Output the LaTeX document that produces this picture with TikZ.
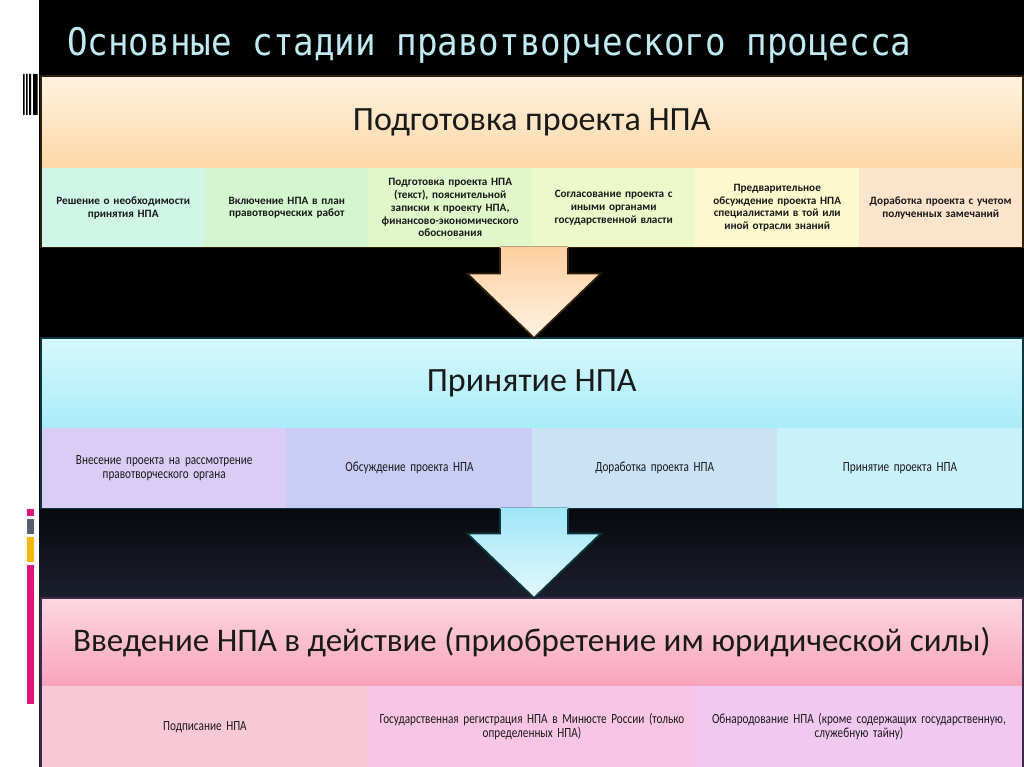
\documentclass[tikz,border=0pt]{standalone}
\usepackage{fontspec}
\setmainfont{Carlito}
\newfontfamily\titlefont{DejaVu Sans Mono}[FakeStretch=0.9]
\newfontfamily\condfont{Carlito}[FakeStretch=0.8]
\newcommand\tightspaces{\spaceskip=2.3pt plus 1pt minus 0.5pt\relax}
\usetikzlibrary{calc}
\definecolor{titlecol}{HTML}{BFEAF2}
\definecolor{txt}{HTML}{1A1A1A}
\definecolor{navy}{HTML}{1E2232}
\definecolor{hAt}{HTML}{FFF2E0}\definecolor{hAb}{HTML}{FDD8A6}
\definecolor{hBt}{HTML}{D6F8FD}\definecolor{hBb}{HTML}{A9ECF9}
\definecolor{hCt}{HTML}{FDD8E0}\definecolor{hCb}{HTML}{F9A3BB}
\definecolor{cA1}{HTML}{CFF6E6}\definecolor{cA2}{HTML}{D4F6CF}\definecolor{cA3}{HTML}{DFF7C9}
\definecolor{cA4}{HTML}{EDF8CB}\definecolor{cA5}{HTML}{FDF8CD}\definecolor{cA6}{HTML}{FDE4CD}
\definecolor{cB1}{HTML}{D9CDF6}\definecolor{cB2}{HTML}{C9CDF6}\definecolor{cB3}{HTML}{C9E2F6}\definecolor{cB4}{HTML}{C9F1F9}
\definecolor{cC1}{HTML}{F8C8D6}\definecolor{cC2}{HTML}{F8C6E4}\definecolor{cC3}{HTML}{F0C8F0}
\definecolor{bA}{HTML}{2E2008}\definecolor{bB}{HTML}{0C3640}\definecolor{bC}{HTML}{3C2A48}
\definecolor{aAt}{HTML}{FDCF9E}\definecolor{aAb}{HTML}{FFF2E4}
\definecolor{aBt}{HTML}{9FE6F8}\definecolor{aBb}{HTML}{E4F9FD}
\definecolor{mag}{HTML}{E0157A}\definecolor{grayb}{HTML}{586070}\definecolor{orb}{HTML}{F8B810}
\begin{document}
\begin{tikzpicture}[x=1pt,y=-1pt,
  hdr/.style={anchor=north west, inner sep=0pt, minimum width=981pt, text=txt},
  cellA/.style={anchor=north west, inner sep=1pt, minimum height=79pt, text width=162pt, align=center, text=txt,
     font=\bfseries\fontsize{11.2}{12.8}\selectfont},
  cellB/.style={anchor=north west, inner sep=1pt, minimum height=80pt, text width=244pt, align=center, text=txt,
     font=\condfont\fontsize{14}{14}\selectfont\tightspaces},
  cellC/.style={anchor=north west, inner sep=1pt, minimum height=81pt, text width=325.5pt, align=center, text=txt,
     font=\condfont\fontsize{14}{14}\selectfont\tightspaces},
  boxline/.style={line width=1.6pt},
  arrowline/.style={line width=1.8pt, line join=miter}
]
\useasboundingbox (0,0) rectangle (1024,767);
% background
\fill[white] (0,0) rectangle (1024,767);
\fill[black] (39,0) rectangle (1024,767);
\shade[top color=black, bottom color=navy] (39,470) rectangle (1024,610);
\fill[navy] (39,610) rectangle (1024,767);
% barcode
\fill[black] (23,74) rectangle (24.5,115) (26,74) rectangle (27.5,115) (29,74) rectangle (31,115) (33,74) rectangle (37.5,115);
% left coloured marks
\fill[mag] (27,509) rectangle (34,516);
\fill[grayb] (27,519) rectangle (34,534);
\fill[orb] (27,537) rectangle (34,562);
\fill[mag] (27,565) rectangle (34,704);
% title
\node[anchor=west, inner sep=0pt, text=titlecol, font=\titlefont\fontsize{38}{42}\selectfont] (title) at (67,45) {Основные стадии правотворческого процесса};

% box 1
\node[hdr, minimum height=92pt, top color=hAt, bottom color=hAb, font=\fontsize{34}{36}\selectfont] (h1) at (41,76) {Подготовка проекта НПА};
\node[cellA, fill=cA1] (c11) at (41,168) {Решение о необходимости\\принятия НПА};
\node[cellA, fill=cA2] (c12) at (204.5,168) {Включение НПА в план\\правотворческих работ};
\node[cellA, fill=cA3] (c13) at (368,168) {Подготовка проекта НПА\\(текст), пояснительной\\записки к проекту НПА,\\финансово-экономического\\обоснования};
\node[cellA, fill=cA4] (c14) at (531.5,168) {Согласование проекта с\\иными органами\\государственной власти};
\node[cellA, fill=cA5] (c15) at (695,168) {Предварительное\\обсуждение проекта НПА\\специалистами в той или\\иной отрасли знаний};
\node[cellA, fill=cA6] (c16) at (858.5,168) {Доработка проекта с учетом\\полученных замечаний};
\draw[boxline, draw=bA] (h1.north west) rectangle (c16.south east);

% box 2
\node[hdr, minimum height=90pt, top color=hBt, bottom color=hBb, font=\fontsize{34}{36}\selectfont] (h2) at (41,338) {Принятие НПА};
\node[cellB, fill=cB1] (c21) at (41,428) {Внесение проекта на рассмотрение\\правотворческого органа};
\node[cellB, fill=cB2] (c22) at (286.25,428) {Обсуждение проекта НПА};
\node[cellB, fill=cB3] (c23) at (531.5,428) {Доработка проекта НПА};
\node[cellB, fill=cB4] (c24) at (776.75,428) {Принятие проекта НПА};
\draw[boxline, draw=bB] (h2.north west) rectangle (c24.south east);

% box 3
\node[hdr, minimum height=88pt, top color=hCt, bottom color=hCb, font=\fontsize{33}{35}\selectfont] (h3) at (41,598) {Введение НПА в действие (приобретение им юридической силы)};
\node[cellC, fill=cC1] (c31) at (41,686) {Подписание НПА};
\node[cellC, fill=cC2] (c32) at (368,686) {Государственная регистрация НПА в Минюсте России (только\\определенных НПА)};
\node[cellC, fill=cC3] (c33) at (695,686) {Обнародование НПА (кроме содержащих государственную,\\служебную тайну)};
\draw[boxline, draw=bC] (h3.north west) rectangle (c33.south east);

% arrows
\coordinate (s1) at ($(c14.south west)+(2.5,0)$);
\coordinate (e1) at (s1 |- h2.north);
\fill[top color=aAt, bottom color=aAb] ($(s1)+(-34,-1)$) -- ($(s1)+(-34,26)$) -- ($(s1)+(-67,26)$) -- (e1) -- ($(s1)+(67,26)$) -- ($(s1)+(34,26)$) -- ($(s1)+(34,-1)$) -- cycle;
\draw[arrowline, draw=bA] ($(s1)+(-34,0.8)$) -- ($(s1)+(-34,26)$) -- ($(s1)+(-67,26)$) -- (e1) -- ($(s1)+(67,26)$) -- ($(s1)+(34,26)$) -- ($(s1)+(34,0.8)$);

\coordinate (s2) at ($(c23.south west)+(2.5,0)$);
\coordinate (e2) at (s2 |- h3.north);
\fill[top color=aBt, bottom color=aBb] ($(s2)+(-34,-1)$) -- ($(s2)+(-34,25)$) -- ($(s2)+(-67,25)$) -- (e2) -- ($(s2)+(67,25)$) -- ($(s2)+(34,25)$) -- ($(s2)+(34,-1)$) -- cycle;
\draw[arrowline, draw=bB] ($(s2)+(-34,0.8)$) -- ($(s2)+(-34,25)$) -- ($(s2)+(-67,25)$) -- (e2) -- ($(s2)+(67,25)$) -- ($(s2)+(34,25)$) -- ($(s2)+(34,0.8)$);
\end{tikzpicture}
\end{document}
